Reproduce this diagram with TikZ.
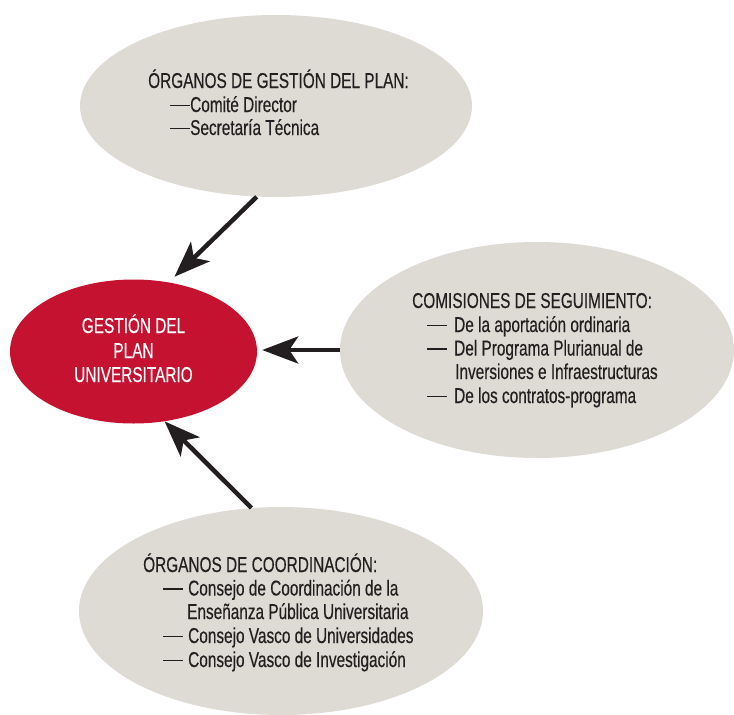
\documentclass[tikz,border=0pt]{standalone}
\usepackage{fontspec}
\setmainfont[FakeStretch=0.715,FakeBold=0.35]{Liberation Sans}
\usetikzlibrary{shapes.geometric,arrows.meta}
\definecolor{ovalgrey}{RGB}{222,218,212}
\definecolor{redoval}{RGB}{196,18,48}
\definecolor{ink}{RGB}{35,31,32}
\newcommand\mydash{\rule[5.6pt]{20pt}{1.7pt}}
\begin{document}
\begin{tikzpicture}[x=1pt,y=-1pt,
  oval/.style={ellipse, fill=ovalgrey, inner sep=0pt},
  arr/.style={draw=ink, line width=4.5pt, -{Stealth[length=36pt,width=27pt,inset=9pt]}},
  txt/.style={anchor=base west, inner sep=0pt, font=\fontsize{21.5}{23.5}\selectfont, text=ink},
  wtxt/.style={anchor=base, inner sep=0pt, font=\fontsize{21.5}{23.5}\selectfont, text=white}]
\useasboundingbox (0,0) rectangle (734,715);
\clip (0,0) rectangle (734,715);
% ovals
\node[oval, minimum width=392pt, minimum height=182pt] (top) at (276,106) {};
\node[oval, minimum width=394pt, minimum height=216pt] (right) at (537,350) {};
\node[oval, minimum width=404pt, minimum height=208pt] (bot) at (281,611) {};
\node[ellipse, fill=redoval, inner sep=0pt, minimum width=247pt, minimum height=144pt] (red) at (133.5,351.5) {};
% arrows
\draw[arr, shorten >=8pt] (top.258.6) -- (red.63);
\draw[arr, shorten >=5pt] (right.west) -- (red.east |- right.west);
\draw[arr] (bot.106) -- (red.294.5);
% red text
\node[wtxt] (r1) at (133.5,333) {GESTIÓN DEL};
\node[wtxt] (r2) at (133.5,358) {PLAN};
\node[wtxt] (r3) at (133.5,382) {UNIVERSITARIO};
% top text
\node[txt] (t1) at (148,88) {ÓRGANOS DE GESTIÓN DEL PLAN:};
\node[txt] (t2) at (170,112) {\mydash Comité Director};
\node[txt] (t3) at (170,135) {\mydash Secretaría Técnica};
% right text
\node[txt] (c1) at (412,308) {COMISIONES DE SEGUIMIENTO:};
\node[txt] (c2) at (427,332) {\mydash\hspace{7pt}De la aportación ordinaria};
\node[txt] (c3) at (427,355.5) {\mydash\hspace{7pt}Del Programa Plurianual de};
\node[txt] (c4) at (455,379) {Inversiones e Infraestructuras};
\node[txt] (c5) at (427,403) {\mydash\hspace{7pt}De los contratos-programa};
% bottom text
\node[txt] (b1) at (143,572) {ÓRGANOS DE COORDINACIÓN:};
\node[txt] (b2) at (163,595.5) {\mydash\hspace{5pt}Consejo de Coordinación de la};
\node[txt] (b3) at (187,619) {Enseñanza Pública Universitaria};
\node[txt] (b4) at (163,643) {\mydash\hspace{5pt}Consejo Vasco de Universidades};
\node[txt] (b5) at (163,667) {\mydash\hspace{5pt}Consejo Vasco de Investigación};
\end{tikzpicture}
\end{document}
